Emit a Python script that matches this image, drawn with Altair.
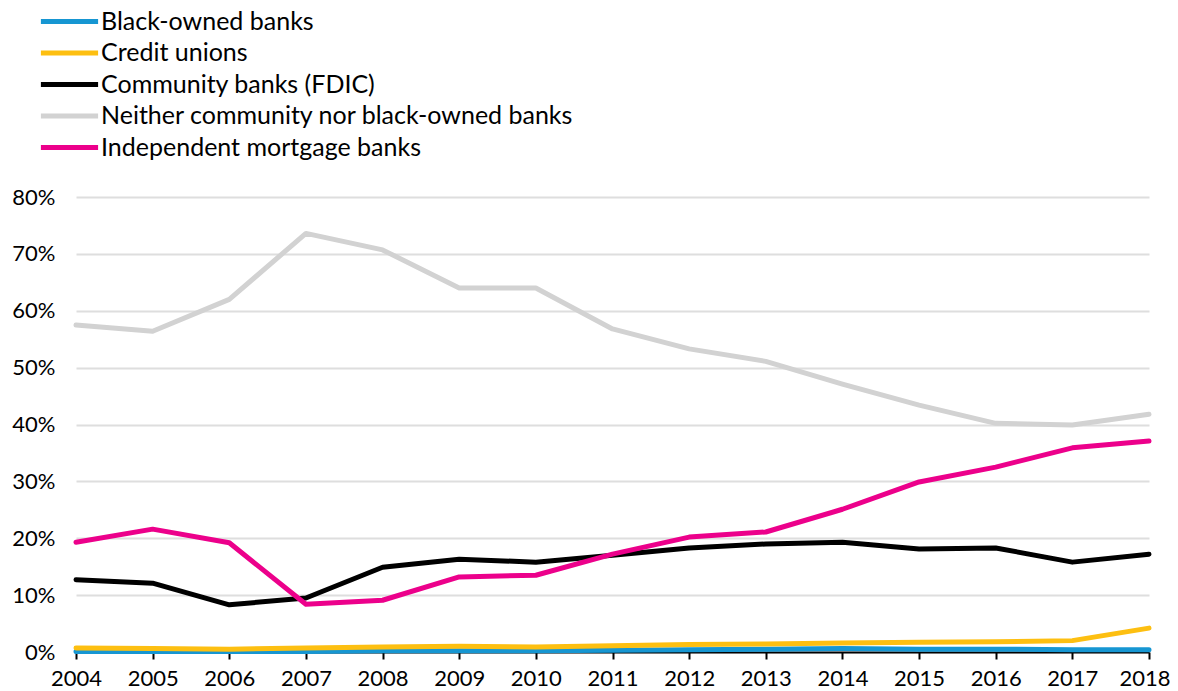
import altair as alt
import pandas as pd

years = list(range(2004, 2019))
series = [
    "Black-owned banks",
    "Credit unions",
    "Community banks (FDIC)",
    "Neither community nor black-owned banks",
    "Independent mortgage banks",
]
colors = ["#1696d2", "#fdbf11", "#000000", "#d2d2d2", "#ec008b"]

black_owned = [0.1, 0.1, 0.1, 0.1, 0.2, 0.2, 0.2, 0.3, 0.4, 0.5, 0.6, 0.5, 0.5, 0.4, 0.4]
credit_unions = [0.7, 0.6, 0.5, 0.7, 0.9, 1.0, 0.9, 1.1, 1.3, 1.4, 1.6, 1.7, 1.8, 2.0, 4.2]
community = [12.7, 12.1, 8.3, 9.5, 14.9, 16.3, 15.8, 17.0, 18.3, 19.0, 19.3, 18.1, 18.3, 15.8, 17.2]
neither = [57.5, 56.4, 62.0, 73.6, 70.7, 64.0, 64.0, 56.8, 53.3, 51.1, 47.1, 43.4, 40.2, 39.9, 41.8]
independent = [19.3, 21.6, 19.2, 8.4, 9.1, 13.2, 13.5, 17.2, 20.2, 21.1, 25.1, 29.9, 32.5, 35.9, 37.1]

values = [black_owned, credit_unions, community, neither, independent]
draw_order = [3, 1, 0, 4, 2]  # legend index -> draw order

rows = []
for s, vals, o in zip(series, values, draw_order):
    for y, v in zip(years, vals):
        rows.append({"year": y, "series": s, "share": v / 100.0, "ord": o})
df = pd.DataFrame(rows)

chart = alt.Chart(df).mark_line(strokeWidth=5, strokeCap="round", strokeJoin="round").encode(
    x=alt.X("year:Q", scale=alt.Scale(domain=[2004, 2018], nice=False, zero=False),
            axis=alt.Axis(title=None, values=years, format="d", grid=False,
                          domainColor="#000000", domainWidth=2, tickColor="#000000",
                          tickWidth=2, tickSize=7, labelFontSize=22, labelPadding=9,
                          labelFlush=False, labelBound=False, labelOverlap=False,
                          labelAlign=alt.condition("datum.value == 2018", alt.value("right"), alt.value("center")),
                          labelOffset=alt.condition("datum.value == 2018", alt.value(21), alt.value(0)),
                          labelFont="Lato", labelColor="#000000")),
    y=alt.Y("share:Q", scale=alt.Scale(domain=[0, 0.8], nice=False),
            axis=alt.Axis(title=None, format=".0%", values=[i / 10 for i in range(9)],
                          domain=False, ticks=False, gridColor="#dedede", gridWidth=2,
                          labelFontSize=22, labelPadding=21, labelFont="Lato",
                          labelColor="#000000")),
    color=alt.Color("series:N", scale=alt.Scale(domain=series, range=colors),
                    legend=alt.Legend(title=None, orient="none", legendX=-20, legendY=-189,
                                      symbolType="M-2.6,0H2.6", symbolSize=484,
                                      symbolStrokeWidth=5, labelFontSize=25,
                                      labelFont="Lato", labelColor="#000000",
                                      labelOffset=18, rowPadding=4.5, labelLimit=700)),
    order=alt.Order("ord:Q"),
    detail="series:N",
).properties(
    width=1073, height=455, padding={"left": 68, "top": 189, "right": 21, "bottom": 42},
    autosize=alt.AutoSizeParams(type="none"),
).configure_view(stroke=None)

chart.save("out.html", embed_options={"renderer": "svg", "actions": False})
